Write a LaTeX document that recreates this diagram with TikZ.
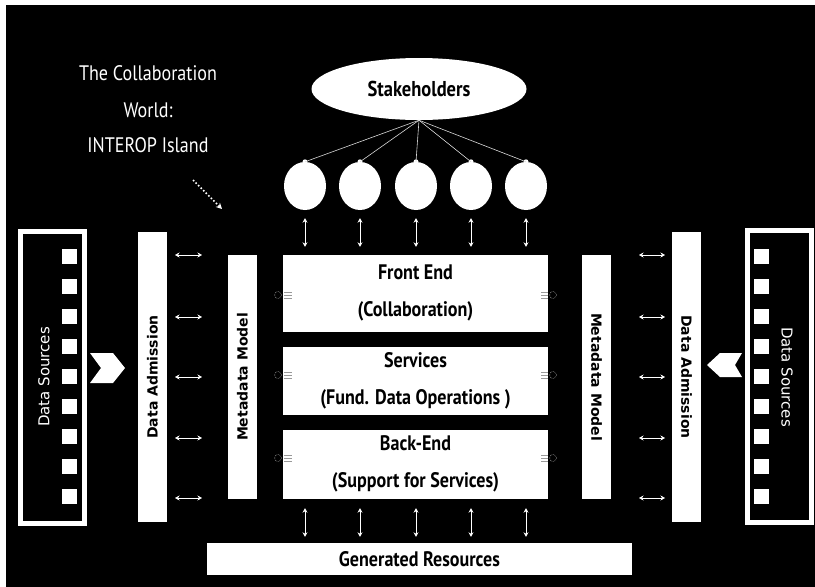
\documentclass[tikz,border=0pt]{standalone}
\usepackage{fontspec}
\setmainfont{PT Sans}[FakeStretch=0.86]
\newfontfamily\dvs{DejaVu Sans}
\usetikzlibrary{arrows.meta,shapes.geometric}
\tikzset{
  wbox/.style={fill=white, draw=none, inner sep=0pt, rectangle},
  layer/.style={wbox, minimum width=265pt, align=center, font=\bfseries\fontsize{21}{37}\selectfont, text=black},
  vbar/.style={wbox, minimum width=29pt, font=\dvs\bfseries\fontsize{14}{16}\selectfont, text=black},
  srcframe/.style={draw=white, line width=5pt, fill=black, inner sep=0pt, minimum width=64pt, minimum height=292pt},
  sq/.style={fill=white, draw=none, inner sep=0pt, minimum size=15pt},
  person/.style={ellipse, fill=white, draw=none, minimum width=42pt, minimum height=48pt, inner sep=0pt},
  dbl/.style={draw=white, line width=0.6pt, {Stealth[length=4.5pt,width=5pt]}-{Stealth[length=4.5pt,width=5pt]}},
  tie/.style={draw=white!85!black, line width=0.6pt},
  plug/.style={draw=white!60!black, line width=0.6pt},
  chev/.style={fill=white, draw=none},
  wtext/.style={text=white, font=\fontsize{21}{24}\selectfont}
}
\begin{document}
\begin{tikzpicture}[x=1pt,y=-1pt]
\useasboundingbox (0,0) rectangle (815,587);
\fill[white] (0,0) rectangle (815,587);
\fill[black] (6,5) rectangle (815,587);

% title text
\node[wtext] (title) at (148,73) {The Collaboration};
\node[wtext] (world) at (148,110) {World:};
\node[wtext] (island) at (148,145) {INTEROP Island};
\coordinate (dotA) at (193,180);
\coordinate (dotB) at (222,209);
\draw[white, line width=1.6pt, dotted, -{Stealth[length=6pt,width=6pt]}] (dotA) -- (dotB);

% stakeholders
\node[ellipse, fill=white, minimum width=215pt, minimum height=62pt, inner sep=0pt,
      font=\bfseries\fontsize{21.5}{24}\selectfont] (stake) at (419,89) {Stakeholders};
\foreach \i/\x in {1/305,2/360,3/416,4/471,5/526}{
  \node[person] (c\i) at (\x,186) {};
  \fill[white] (c\i.north) circle (2.5pt);
  \draw[tie] (stake.south) -- (c\i.north);
}

% layers
\node[layer, minimum height=77pt] (front) at (415.5,293.5) {\raisebox{5pt}{Front End}\\\raisebox{5pt}{(Collaboration)}};
\node[layer, minimum height=68pt] (serv) at (415.5,381) {\raisebox{5pt}{Services}\\\raisebox{5pt}{(Fund. Data Operations )}};
\node[layer, minimum height=69pt] (back) at (415.5,464.5) {\raisebox{5pt}{Back-End}\\\raisebox{5pt}{(Support for Services)}};

% metadata / admission bars
\node[vbar, minimum height=244pt] (mmL) at (242.5,377) {\rotatebox{90}{Metadata Model}};
\node[vbar, minimum height=244pt] (mmR) at (596.5,377) {\rotatebox{-90}{Metadata Model}};
\node[vbar, minimum height=290pt] (daL) at (152.5,377) {\rotatebox{90}{Data Admission}};
\node[vbar, minimum height=290pt] (daR) at (686.5,377) {\rotatebox{-90}{Data Admission}};

% data sources
\node[srcframe] (dsL) at (52,377) {};
\node[srcframe] (dsR) at (779,376.5) {};
\node[text=white, font=\dvs\fontsize{15}{17}\selectfont] (dsLt) at (44,377) {\rotatebox{90}{Data Sources}};
\node[text=white, font=\dvs\fontsize{15}{17}\selectfont] (dsRt) at (787,377) {\rotatebox{-90}{Data Sources}};
\foreach \k in {0,...,8}{
  \node[sq] (sl\k) at (69.5,256+30*\k) {};
  \node[sq] (sr\k) at (761.5,256+30*\k) {};
}

% chevrons
\fill[chev] (90,353) -- (113,353) -- (125,368) -- (113,383) -- (90,383) -- (101,368) -- cycle;
\fill[chev] (742,353) -- (720,353) -- (707,365) -- (720,377) -- (742,377) -- (735,365) -- cycle;

% generated resources
\node[wbox, minimum width=425pt, minimum height=32pt, font=\bfseries\fontsize{21}{24}\selectfont] (gen) at (419.5,559) {Generated Resources};

% vertical arrows
\foreach \i in {1,...,5}{
  \path (c\i |- front.north) ++(0,-8) coordinate (ta\i);
  \path (c\i.south) ++(0,8) coordinate (tb\i);
  \draw[dbl] (tb\i) -- (ta\i);
  \path (c\i |- back.south) ++(0,9) coordinate (ba\i);
  \path (c\i |- gen.north) ++(0,-6) coordinate (bb\i);
  \draw[dbl] (ba\i) -- (bb\i);
}

% horizontal arrows
\foreach \j/\y in {1/255,2/317,3/377,4/438,5/498}{
  \coordinate (la\j) at (175,\y);
  \coordinate (lb\j) at (202,\y);
  \coordinate (ra\j) at (639,\y);
  \coordinate (rb\j) at (665,\y);
  \draw[dbl] (la\j) -- (lb\j);
  \draw[dbl] (ra\j) -- (rb\j);
}

% plug icons
\foreach \n/\y in {front/295,serv/375,back/458}{
  \draw[plug, densely dotted] (278,\y) circle (3.5pt);
  \draw[plug] (284,\y-3) -- (292,\y-3) (284,\y) -- (292,\y) (284,\y+3) -- (292,\y+3);
  \draw[plug, densely dotted] (553,\y) circle (3.5pt);
  \draw[plug] (541,\y-3) -- (548,\y-3) (541,\y) -- (548,\y) (541,\y+3) -- (548,\y+3);
}
\end{tikzpicture}
\end{document}
